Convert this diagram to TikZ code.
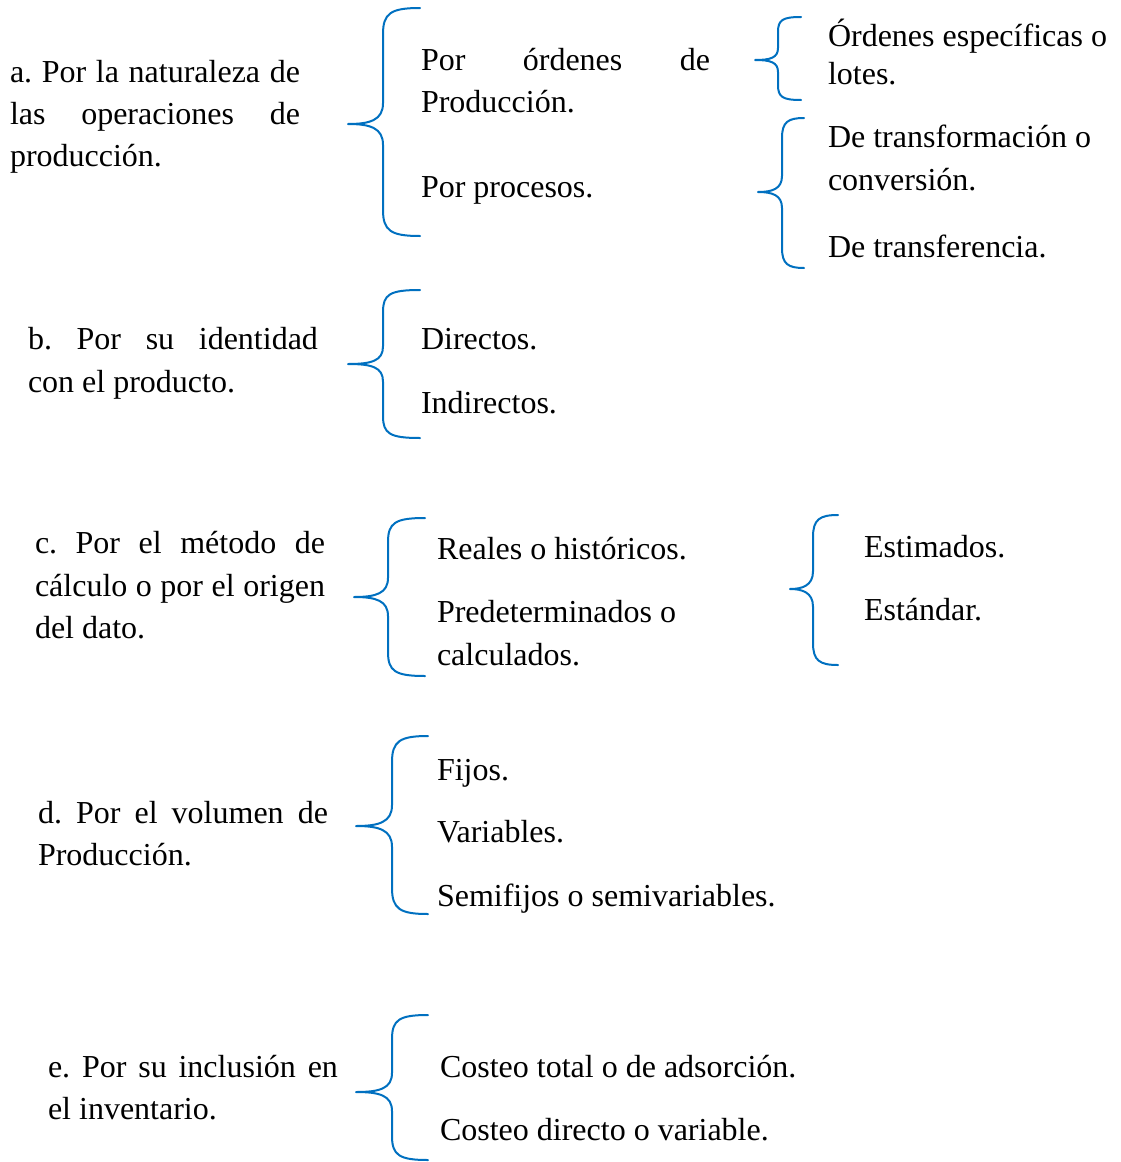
\documentclass[tikz,border=0pt]{standalone}
\usepackage{fontspec}
\setmainfont{Liberation Serif}
\frenchspacing
\definecolor{braceblue}{RGB}{0,112,192}
\tikzset{
  txt/.style={anchor=base west, inner sep=0pt, outer sep=0pt, font=\fontsize{32}{43}\selectfont\frenchspacing},
  bracestyle/.style={draw=braceblue, line width=2pt, line cap=round, line join=round},
}
% #1 tip x, #2 vertical x, #3 right x, #4 top y, #5 tip y, #6 bottom y, #7 corner size
\newcommand\mybrace[7]{%
  \draw[bracestyle] (#3,#4) .. controls (#2+0.3*#7,#4) and (#2,#4+0.2*#7) .. (#2,#4+#7)
    -- (#2,#5-0.8*#7) .. controls (#2,#5-0.15*#7) and (#2-0.5*#7,#5) .. (#1,#5)
    .. controls (#2-0.5*#7,#5) and (#2,#5+0.15*#7) .. (#2,#5+0.8*#7)
    -- (#2,#6-#7) .. controls (#2,#6-0.2*#7) and (#2+0.3*#7,#6) .. (#3,#6);}
\newcommand\jline[1]{\makebox[290pt][s]{#1}}
\begin{document}
\begin{tikzpicture}[x=1pt,y=-1pt]
\useasboundingbox (0,0) rectangle (1120,1162);
% ---- a ----
\node[txt] (a1) at (10,82) {\jline{a. Por la naturaleza de}};
\node[txt] (a2) at (10,124) {\jline{las operaciones de}};
\node[txt] (a3) at (10,166) {producción.};
\mybrace{348}{383}{420}{8}{124}{236}{26}
\node[txt] (a4) at (421,70) {\makebox[289pt][s]{Por órdenes de}};
\node[txt] (a5) at (421,112) {Producción.};
\node[txt] (a6) at (421,197) {Por procesos.};
\mybrace{755}{778}{801}{17}{60}{100}{15}
\node[txt] (a7) at (828,46) {Órdenes específicas o};
\node[txt] (a8) at (828,84) {lotes.};
\mybrace{758}{782}{804}{118}{192}{268}{20}
\node[txt] (a9) at (828,147) {De transformación o};
\node[txt] (a10) at (828,190) {conversión.};
\node[txt] (a11) at (828,257) {De transferencia.};
% ---- b ----
\node[txt] (b1) at (28,349) {\jline{b. Por su identidad}};
\node[txt] (b2) at (28,392) {con el producto.};
\mybrace{348}{383}{420}{290}{364}{438}{22}
\node[txt] (b3) at (421,349) {Directos.};
\node[txt] (b4) at (421,413) {Indirectos.};
% ---- c ----
\node[txt] (c1) at (35,553) {\jline{c. Por el método de}};
\node[txt] (c2) at (35,596) {\jline{cálculo o por el origen}};
\node[txt] (c3) at (35,638) {del dato.};
\mybrace{354}{388}{425}{518}{597}{676}{24}
\node[txt] (c4) at (437,559) {Reales o históricos.};
\node[txt] (c5) at (437,622) {Predeterminados o};
\node[txt] (c6) at (437,665) {calculados.};
\mybrace{790}{813}{838}{515}{589}{665}{22}
\node[txt] (c7) at (864,557) {Estimados.};
\node[txt] (c8) at (864,620) {Estándar.};
% ---- d ----
\node[txt] (d1) at (38,823) {\jline{d. Por el volumen de}};
\node[txt] (d2) at (38,865) {Producción.};
\mybrace{356}{392}{428}{736}{826}{914}{26}
\node[txt] (d3) at (437,780) {Fijos.};
\node[txt] (d4) at (437,842) {Variables.};
\node[txt] (d5) at (437,906) {Semifijos o semivariables.};
% ---- e ----
\node[txt] (e1) at (48,1077) {\jline{e. Por su inclusión en}};
\node[txt] (e2) at (48,1119) {el inventario.};
\mybrace{356}{392}{428}{1015}{1092}{1160}{24}
\node[txt] (e3) at (440,1077) {Costeo total o de adsorción.};
\node[txt] (e4) at (440,1140) {Costeo directo o variable.};
\end{tikzpicture}
\end{document}
